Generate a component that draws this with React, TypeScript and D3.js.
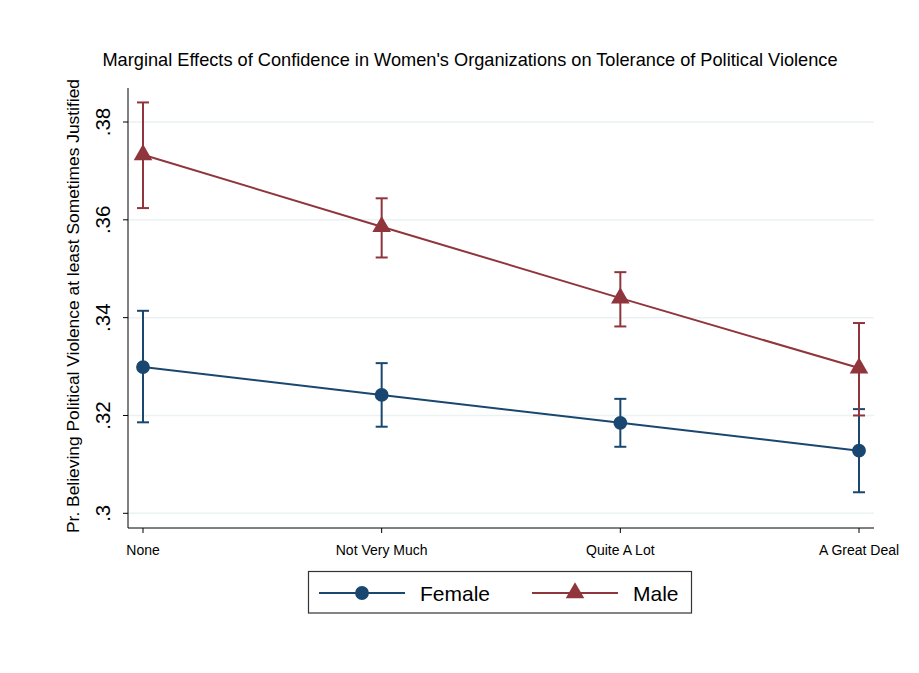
import React from "react";
import * as d3 from "d3";

const categories = ["None", "Not Very Much", "Quite A Lot", "A Great Deal"];
const femaleEst = [0.3299, 0.3242, 0.3185, 0.3128];
const femaleLo = [0.3186, 0.3177, 0.3136, 0.3043];
const femaleHi = [0.3414, 0.3307, 0.3234, 0.3213];
const maleEst = [0.3733, 0.3586, 0.3440, 0.3297];
const maleLo = [0.3624, 0.3523, 0.3382, 0.3200];
const maleHi = [0.3840, 0.3644, 0.3493, 0.3389];
const yTicks = [0.3, 0.32, 0.34, 0.36, 0.38];
const yTickLabels = [".3", ".32", ".34", ".36", ".38"];
const seriesNames = ["Female", "Male"];

const W = 919;
const H = 673;
const FONT = "'Liberation Sans', Arial, Helvetica, sans-serif";
const NAVY = "#1a476f";
const MAROON = "#90353b";

const plot = { left: 128, right: 874, top: 88, bottom: 528 };

export default function App() {
  const x = d3.scalePoint<string>().domain(categories).range([143, 859]);
  const y = d3.scaleLinear().domain([0.3, 0.38]).range([513.3, 122]);
  const line = d3
    .line<number>()
    .x((_, i) => x(categories[i]) as number)
    .y((d) => y(d));

  const series = [
    { name: seriesNames[0], est: femaleEst, lo: femaleLo, hi: femaleHi, color: NAVY, marker: "circle" },
    { name: seriesNames[1], est: maleEst, lo: maleLo, hi: maleHi, color: MAROON, marker: "triangle" },
  ];

  const tri = d3.symbol().type(d3.symbolTriangle).size(150)() as string;
  const circ = d3.symbol().type(d3.symbolCircle).size(150)() as string;

  const capW = 6;

  return (
    <svg
      width={W}
      height={H}
      style={{ position: "absolute", left: 0, top: 0, display: "block", background: "#fff" }}
      fontFamily={FONT}
    >
      <rect x={0} y={0} width={W} height={H} fill="#fff" />
      <text x={470} y={66} textAnchor="middle" fontSize={18.2} fill="#000">
        Marginal Effects of Confidence in Women's Organizations on Tolerance of Political Violence
      </text>

      {/* gridlines */}
      {yTicks.map((t) => (
        <line key={"g" + t} x1={plot.left} x2={plot.right} y1={y(t)} y2={y(t)} stroke="#eaf2f3" strokeWidth={1.5} />
      ))}

      {/* axes */}
      <line x1={plot.left} x2={plot.left} y1={plot.top} y2={plot.bottom} stroke="#000" strokeWidth={1} />
      <line x1={plot.left} x2={plot.right} y1={plot.bottom} y2={plot.bottom} stroke="#000" strokeWidth={1} />

      {yTicks.map((t, i) => (
        <g key={"yt" + t}>
          <line x1={plot.left - 5} x2={plot.left} y1={y(t)} y2={y(t)} stroke="#000" />
          <text
            transform={`translate(${110},${y(t)}) rotate(-90)`}
            textAnchor="middle"
            fontSize={20.5}
            fill="#000"
          >
            {yTickLabels[i]}
          </text>
        </g>
      ))}

      {categories.map((c) => (
        <g key={"xt" + c}>
          <line x1={x(c)} x2={x(c)} y1={plot.bottom} y2={plot.bottom + 5} stroke="#000" />
          <text x={x(c)} y={plot.bottom + 27} textAnchor="middle" fontSize={14} fill="#000">
            {c}
          </text>
        </g>
      ))}

      <text
        transform={`translate(${79},${306}) rotate(-90)`}
        textAnchor="middle"
        fontSize={17.4}
        fill="#000"
      >
        Pr. Believing Political Violence at least Sometimes Justified
      </text>

      {/* series */}
      {series.map((s) => (
        <g key={s.name}>
          <path d={line(s.est) as string} fill="none" stroke={s.color} strokeWidth={2} />
          {s.est.map((v, i) => {
            const cx = x(categories[i]) as number;
            return (
              <g key={i}>
                <line x1={cx} x2={cx} y1={y(s.lo[i])} y2={y(s.hi[i])} stroke={s.color} strokeWidth={2} />
                <line x1={cx - capW} x2={cx + capW} y1={y(s.lo[i])} y2={y(s.lo[i])} stroke={s.color} strokeWidth={2} />
                <line x1={cx - capW} x2={cx + capW} y1={y(s.hi[i])} y2={y(s.hi[i])} stroke={s.color} strokeWidth={2} />
                <path d={s.marker === "circle" ? circ : tri} transform={`translate(${cx},${y(v)})`} fill={s.color} />
              </g>
            );
          })}
        </g>
      ))}

      {/* legend */}
      <rect x={308.5} y={571.5} width={383} height={41.5} fill="#fff" stroke="#333" strokeWidth={1.2} />
      {series.map((s, i) => {
        const lx = 319 + i * 213;
        return (
          <g key={"lg" + s.name}>
            <line x1={lx} x2={lx + 86} y1={593} y2={593} stroke={s.color} strokeWidth={2} />
            <path d={s.marker === "circle" ? circ : tri} transform={`translate(${lx + 43},${593})`} fill={s.color} />
            <text x={lx + 101} y={601} fontSize={21} fill="#000">
              {s.name}
            </text>
          </g>
        );
      })}
    </svg>
  );
}
